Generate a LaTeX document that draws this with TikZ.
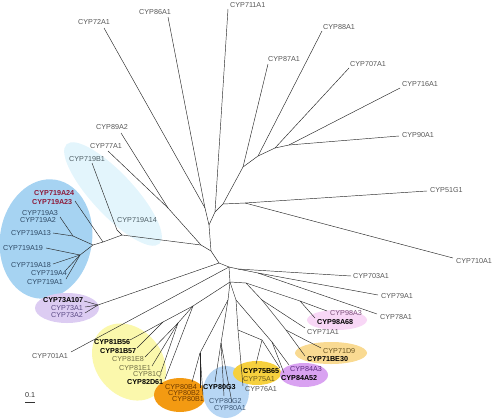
\documentclass[tikz,border=0pt]{standalone}
\usepackage{fontspec}
\setmainfont{Liberation Sans}
\definecolor{labgray}{HTML}{575757}
\definecolor{blueA}{HTML}{A6D3F2}
\definecolor{cyanA}{HTML}{E3F5FC}
\definecolor{purpA}{HTML}{DCCCF2}
\definecolor{yellA}{HTML}{FBF8AC}
\definecolor{orngA}{HTML}{F39A12}
\definecolor{blueB}{HTML}{B7D6F4}
\definecolor{goldA}{HTML}{F6D03E}
\definecolor{purpB}{HTML}{D9A2F1}
\definecolor{orngB}{HTML}{F9DA92}
\definecolor{pinkA}{HTML}{F8D7F6}
\definecolor{tblue}{HTML}{2F4A66}
\definecolor{tred}{HTML}{8E1B3A}
\definecolor{tcyan}{HTML}{4F5F66}
\definecolor{tpurp}{HTML}{5C4B86}
\definecolor{tyell}{HTML}{6F6D45}
\definecolor{torng}{HTML}{6E3A00}
\definecolor{tblueb}{HTML}{3C5775}
\definecolor{tgold}{HTML}{6B5A1C}
\definecolor{tpurpb}{HTML}{5C2C80}
\definecolor{torngb}{HTML}{6A5522}
\definecolor{tpink}{HTML}{7B5279}
\tikzset{
  lab/.style={anchor=west, inner sep=0pt, font=\fontsize{7.2}{8}\selectfont, text=labgray},
  labb/.style={lab, font=\fontsize{7.2}{8}\selectfont\bfseries},
  branch/.style={line width=0.45pt, draw=black!85},
}
\begin{document}
\begin{tikzpicture}[x=1pt, y=-1pt]
\useasboundingbox (0,0) rectangle (492,418);
% clade shading
\fill[blueA, shift={(46,239)}, rotate=-9] (0,0) ellipse [x radius=46, y radius=60];
\fill[cyanA, shift={(113,194)}, rotate=-47] (0,0) ellipse [x radius=68, y radius=21];
\fill[purpA] (67,308) ellipse [x radius=32, y radius=15];
\fill[yellA, shift={(129,362)}, rotate=-50] (0,0) ellipse [x radius=42, y radius=33];
\fill[orngA] (180,395) ellipse [x radius=26, y radius=17];
\fill[blueB] (226,392) ellipse [x radius=23, y radius=26];
\fill[goldA] (257,373) ellipse [x radius=24, y radius=12];
\fill[purpB] (304,375) ellipse [x radius=24, y radius=12];
\fill[orngB] (331,353) ellipse [x radius=36, y radius=11];
\fill[pinkA] (337,320) ellipse [x radius=30, y radius=10];
% inner nodes
\foreach \n/\x/\y in {C/215/212, A/223/204, G/243/167, H/258/156, I/275/148, J/289/145,
  B/245/203, D/209/225, E/205/208, F/211/251, K/201/245, J2/168/208, L/122/235,
  M/117/230, L2/103/242, L3/93/245, L4/73/236, L5/80/255, N/219/263, P/229/267,
  W1/238/269, W2/258/273, P1/230/282, W3/246/283, X/300/301, W4/262/300, Z/286/330,
  V1/236/300, Q84/272/342, V2/238/330, Q75/262/340, T0/228/300, T/221/343, S/200/353,
  R/193/306, RB/163/322, RE/178/323, Q73/98/305}
  \coordinate (\n) at (\x,\y);
% leaf ends
\foreach \n/\x/\y in {e72A1/104/28, e86A1/168/17, e711A1/228/9, e87A1/268/64,
  e88A1/322/31, e707A1/349/68, e716A1/400/88, e90A1/399/136, e51G1/427/191,
  e710A1/453/258, e703A1/351/276, e79A1/378/295, e78A1/377/314, e98A3/327/311,
  e98A68/315/318, e71A1/305/328, e71D9/321/348, e71BE30/305/356, e84A3/289/365,
  e84A52/284/373, e75B65/256/364, e75A1/280/368, e76A1/243/386, e80G3/215/382,
  e80G2/224/396, e80A1/232/403, e80B4/192/382, e80B2/200/388, e80B1/203/395,
  e82D61/165/379, e81Q/161/372, e81E1/152/366, e81E8/145/357, e81B57/137/348,
  e81B56/130/340, e701A1/71/352, e73A107/84/301, e73A1/85/307, e73A2/85/313,
  e719A1/66/279, e719A4/66/270, e719A18/53/264, e719A19/46/248, e719A13/53/233,
  e719A2/60/217, e719A23/75/201, e719B1/92/163, e77A1/108/151, e89A2/121/133}
  \coordinate (\n) at (\x,\y);
% branches
\foreach \a/\b in {C/e711A1, C/A, A/G, A/B, G/e87A1, G/H, H/e88A1, H/I, I/e707A1,
  I/J, J/e716A1, J/e90A1, B/e51G1, B/e710A1, D/C, D/E, E/e72A1, E/e86A1, F/D, F/K,
  F/N, K/J2, K/L, J2/e89A2, J2/e77A1, L/M, L/L2, M/e719B1, L2/e719A23, L2/L3, L3/L4,
  L3/L5, L4/e719A2, L4/e719A13, L5/e719A19, L5/e719A18, L5/e719A4, L5/e719A1, N/P,
  N/Q73, Q73/e73A107, Q73/e73A1, Q73/e73A2, P/e701A1, P/W1, W1/e703A1, W1/W2,
  W2/e79A1, W2/e78A1, P/P1, P1/W3, W3/X, W3/W4, X/e98A3, X/e98A68, W4/e71A1, W4/Z,
  Z/e71D9, Z/e71BE30, P1/V1, V1/Q84, V1/V2, Q84/e84A3, Q84/e84A52, V2/Q75, V2/e76A1,
  Q75/e75B65, Q75/e75A1, P1/T0, T0/T, T0/S, T/e80G3, T/e80G2, T/e80A1, S/e80B4,
  S/e80B2, S/e80B1, P1/R, R/RB, R/RE, R/e82D61, RB/e81B56, RB/e81B57, RE/e81E8,
  RE/e81E1, RE/e81Q}
  \draw[branch] (\a) -- (\b);
% labels
\foreach \t/\x/\y in {CYP72A1/78/22, CYP86A1/139/12, CYP711A1/230/5, CYP87A1/268/59,
  CYP88A1/323/27, CYP707A1/350/64, CYP716A1/402/84, CYP90A1/402/135, CYP51G1/430/190,
  CYP710A1/456/261, CYP703A1/353/276, CYP79A1/381/296, CYP78A1/380/317, CYP71A1/307/332,
  CYP76A1/245/389, CYP701A1/32/356, CYP77A1/90/146, CYP89A2/96/127}
  \node[lab] (\t) at (\x,\y) {\t};
\foreach \t/\x/\y/\c in {CYP719A3/22/213/tblue, CYP719A2/20/220/tblue,
  CYP719A13/11/233/tblue, CYP719A19/3/248/tblue, CYP719A18/11/265/tblue,
  CYP719A4/31/273/tblue, CYP719A1/27/282/tblue, CYP719B1/69/159/tcyan,
  CYP719A14/117/220/tcyan, CYP73A1/51/308/tpurp, CYP73A2/51/315/tpurp,
  CYP81E8/112/359/tyell, CYP81E1/119/368/tyell, CYP81Q/133/375/tyell,
  CYP80B4/165/387/torng, CYP80B2/168/393/torng, CYP80B1/172/399/torng,
  CYP80G2/209/401/tblueb, CYP80A1/214/408/tblueb, CYP75A1/243/379/tgold,
  CYP84A3/290/369/tpurpb, CYP71D9/323/351/torngb, CYP98A3/330/313/tpink}
  \node[lab, text=\c] (\t) at (\x,\y) {\t};
\foreach \t/\x/\y/\c in {CYP719A24/34/193/tred, CYP719A23/32/202/tred,
  CYP73A107/43/300/black, CYP81B56/94/342/black, CYP81B57/100/351/black,
  CYP82D61/127/382/black, CYP80G3/203/387/black, CYP75B65/243/371/black,
  CYP84A52/281/378/black, CYP71BE30/307/359/black, CYP98A68/317/322/black}
  \node[labb, text=\c] (\t) at (\x,\y) {\t};
% scale bar
\node[lab, text=black!80] (sclab) at (25,395) {0.1};
\coordinate (sc1) at (25,402);
\coordinate (sc2) at (35,402);
\draw[line width=0.8pt, black!80] (sc1) -- (sc2);
\end{tikzpicture}
\end{document}
